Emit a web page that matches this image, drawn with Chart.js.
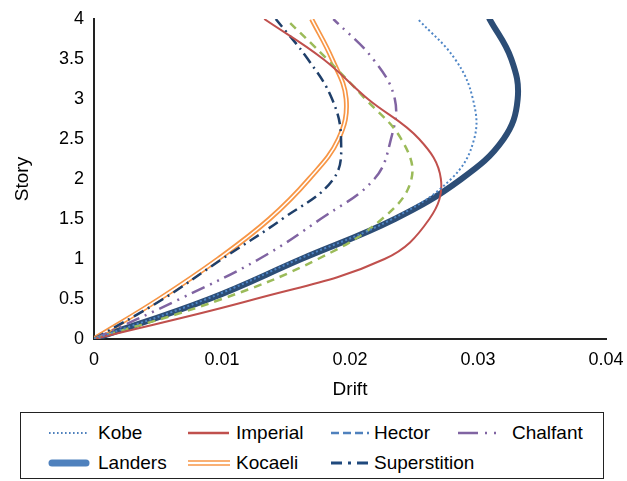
<!DOCTYPE html>
<html>
<head>
<meta charset="utf-8">
<script src="https://cdn.jsdelivr.net/npm/chart.js@4.4.1/dist/chart.umd.min.js"></script>
<style>
  body { margin: 0; background: #fff; font-family: "Liberation Sans", Arial, sans-serif; }
  #wrap { position: relative; width: 627px; height: 481px; }
  #chartBox { position: absolute; left: 0; top: 0; width: 627px; height: 405px; }
  #legend { position: absolute; left: 20px; top: 412px; width: 582px; height: 65px; border: 1px solid #222; }
  .item { position: absolute; height: 22px; font-size: 19px; line-height: 22px; color: #000; white-space: nowrap; }
  .item svg { position: absolute; top: 0; left: 0; }
  .item span { position: absolute; top: 0; }
</style>
</head>
<body>
<div id="wrap">
  <div id="chartBox"><canvas id="myChart"></canvas></div>
  <div id="legend"></div>
</div>
<script>
// story levels (y) and drift per record (x)
const stories = [0, 0.5, 1, 1.5, 2, 2.5, 3, 3.5, 4];
const kobe = [0, 0.0088, 0.0160, 0.0233, 0.0279, 0.0297, 0.0296, 0.0282, 0.0253];
const imperial = [0, 0.0126, 0.0227, 0.0262, 0.0271, 0.0254, 0.0214, 0.0179, 0.0133];
const hector = [0, 0.0100, 0.0175, 0.0225, 0.0248, 0.0240, 0.0212, 0.0182, 0.0150];
const chalfant = [0, 0.0067, 0.0129, 0.0177, 0.0219, 0.0232, 0.0235, 0.0218, 0.0187];
const landers = [0, 0.0090, 0.0162, 0.0235, 0.0287, 0.0320, 0.0331, 0.0326, 0.0309];
const kocaeli = [0, 0.0051, 0.0097, 0.0137, 0.0168, 0.0191, 0.0197, 0.0186, 0.0170];
const superstition = [0, 0.0054, 0.0100, 0.0147, 0.0187, 0.0193, 0.0186, 0.0167, 0.0142];

const xTicks = [0, 0.01, 0.02, 0.03, 0.04];
const yTicks = [0, 0.5, 1, 1.5, 2, 2.5, 3, 3.5, 4];

function pts(drift) {
    return drift.map((d, i) => ({ x: d, y: stories[i] }));
}

const TICK_FONT = { family: '"Liberation Sans", Arial, sans-serif', size: 18 };
const TITLE_FONT = { family: '"Liberation Sans", Arial, sans-serif', size: 19 };

const datasets = [
    { label: "Landers", data: pts(landers), borderColor: "#2c4d76", borderWidth: 6, borderCapStyle: "round", order: 9 },
    { label: "Kocaeli", data: pts(kocaeli), borderColor: "#f79646", borderWidth: 5, order: 8 },
    { label: "Kocaeli_gap", data: pts(kocaeli), borderColor: "#ffffff", borderWidth: 1.6, order: 7 },
    { label: "Superstition", data: pts(superstition), borderColor: "#1f3f6a", borderWidth: 2.5, borderDash: [11, 5, 2, 5], order: 6 },
    { label: "Chalfant", data: pts(chalfant), borderColor: "#8064a2", borderWidth: 2.5, borderDash: [14, 6, 2, 6, 2, 6], order: 5 },
    { label: "Hector", data: pts(hector), borderColor: "#9bbb59", borderWidth: 2.5, borderDash: [8, 6], order: 4 },
    { label: "Imperial", data: pts(imperial), borderColor: "#c0504d", borderWidth: 2, order: 3 },
    { label: "Kobe", data: pts(kobe), borderColor: "#4f86c6", borderWidth: 2, borderDash: [2, 2.5], order: 2 }
];
datasets.forEach(ds => {
    ds.showLine = true;
    ds.pointRadius = 0;
    ds.tension = 0.4;
    ds.fill = false;
});

const ctx = document.getElementById("myChart").getContext("2d");
const myChart = new Chart(ctx, {
    type: "scatter",
    data: { datasets: datasets },
    options: {
        responsive: true,
        maintainAspectRatio: false,
        animation: false,
        layout: { padding: { left: 7, right: 21, top: 19, bottom: 0 } },
        plugins: { legend: { display: false }, tooltip: { enabled: false } },
        scales: {
            x: {
                type: "linear", min: 0, max: 0.04,
                grid: { display: false },
                border: { display: true, color: "#222", width: 2 },
                afterBuildTicks: s => { s.ticks = xTicks.map(v => ({ value: v })); },
                afterFit: s => { s.height = 66; },
                ticks: { color: "#000", font: TICK_FONT, padding: 2, maxRotation: 0, callback: v => String(v) },
                title: { display: true, text: "Drift", color: "#000", font: TITLE_FONT, padding: { top: 4, bottom: 4 } }
            },
            y: {
                type: "linear", min: 0, max: 4,
                grid: { display: false },
                border: { display: true, color: "#222", width: 2 },
                afterBuildTicks: s => { s.ticks = yTicks.map(v => ({ value: v })); },
                afterFit: s => { s.width = 87; },
                ticks: { color: "#000", font: TICK_FONT, padding: 2, callback: v => String(v) },
                title: { display: true, text: "Story", color: "#000", font: TITLE_FONT, padding: { top: 4, bottom: 4 } }
            }
        }
    }
});

// legend samples, drawn as small svg lines
const legendItems = [
    { name: "Kobe", left: 27, top: 9, color: "#4f81bd", kind: "dot" },
    { name: "Imperial", left: 167, top: 9, color: "#c0504d", kind: "solid" },
    { name: "Hector", left: 310, top: 9, color: "#4f81bd", kind: "dash" },
    { name: "Chalfant", left: 437, top: 9, color: "#8064a2", kind: "dashdotdot" },
    { name: "Landers", left: 27, top: 39, color: "#4f81bd", kind: "thick" },
    { name: "Kocaeli", left: 167, top: 39, color: "#f79646", kind: "double" },
    { name: "Superstition", left: 310, top: 39, color: "#1f497d", kind: "dashdot" }
];
const textOffset = { Kobe: 50, Imperial: 48, Hector: 43, Chalfant: 54, Landers: 50, Kocaeli: 48, Superstition: 43 };

function sample(kind, color) {
    const y = 11;
    switch (kind) {
        case "dot":
            return `<line x1="1" y1="${y}" x2="41" y2="${y}" stroke="${color}" stroke-width="2" stroke-dasharray="1.6,2.4"/>`;
        case "solid":
            return `<line x1="0" y1="${y}" x2="41" y2="${y}" stroke="${color}" stroke-width="2.5"/>`;
        case "dash":
            return `<line x1="0" y1="${y}" x2="38" y2="${y}" stroke="${color}" stroke-width="2.5" stroke-dasharray="8,4"/>`;
        case "dashdotdot":
            return `<line x1="0" y1="${y}" x2="44" y2="${y}" stroke="${color}" stroke-width="2.5" stroke-dasharray="20,7,2,7,2,7"/>`;
        case "thick":
            return `<line x1="4" y1="${y}" x2="38" y2="${y}" stroke="${color}" stroke-width="7" stroke-linecap="round"/>`;
        case "double":
            return `<line x1="0" y1="${y - 2}" x2="42" y2="${y - 2}" stroke="${color}" stroke-width="1.7"/>` +
                   `<line x1="0" y1="${y + 2}" x2="42" y2="${y + 2}" stroke="${color}" stroke-width="1.7"/>`;
        case "dashdot":
            return `<line x1="0" y1="${y}" x2="38" y2="${y}" stroke="${color}" stroke-width="3" stroke-dasharray="11,6,3,6"/>`;
    }
    return "";
}

const legend = document.getElementById("legend");
legendItems.forEach(it => {
    const div = document.createElement("div");
    div.className = "item";
    div.style.left = it.left + "px";
    div.style.top = it.top + "px";
    div.innerHTML = `<svg width="46" height="22">${sample(it.kind, it.color)}</svg>` +
        `<span style="left:${textOffset[it.name]}px">${it.name}</span>`;
    legend.appendChild(div);
});
</script>
</body>
</html>
